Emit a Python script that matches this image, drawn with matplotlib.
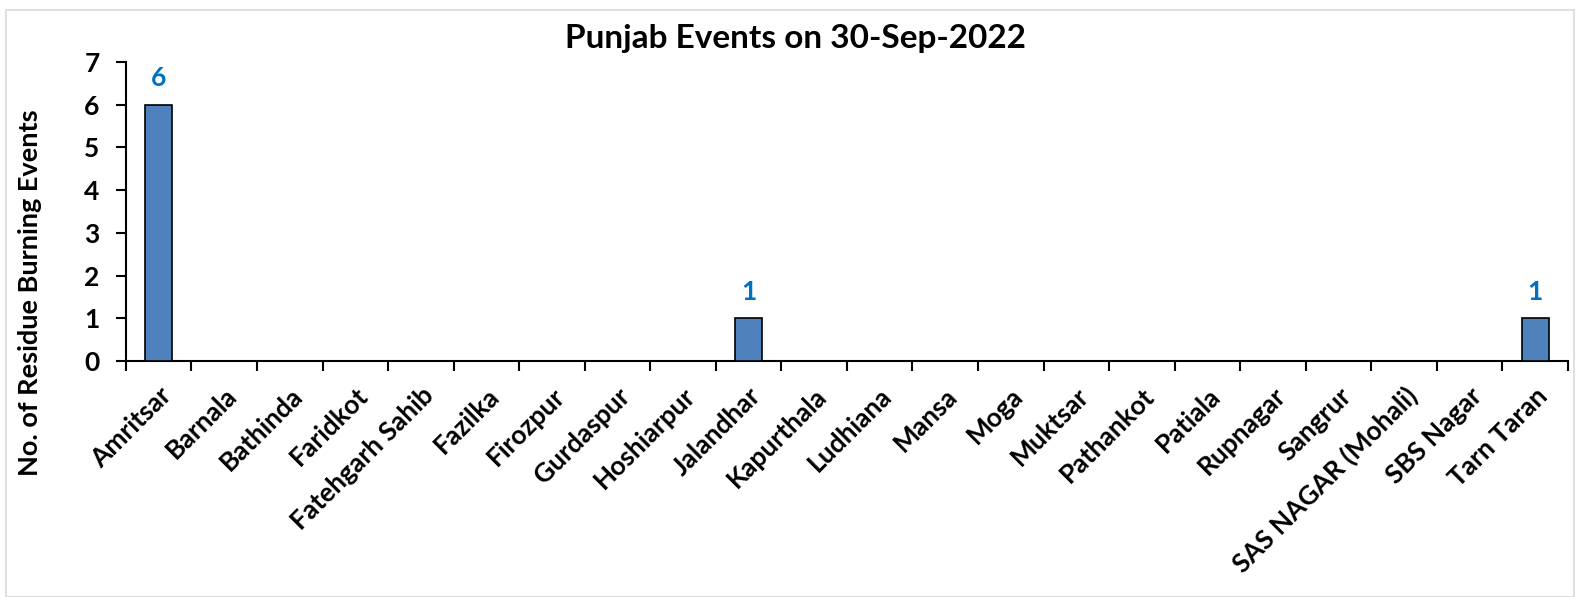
import numpy as np
import matplotlib.pyplot as plt
from matplotlib.patches import Rectangle

plt.rcParams['font.family'] = ['Lato', 'DejaVu Sans']
plt.rcParams['font.weight'] = 'bold'

# data
districts = ["Amritsar", "Barnala", "Bathinda", "Faridkot", "Fatehgarh Sahib",
             "Fazilka", "Firozpur", "Gurdaspur", "Hoshiarpur", "Jalandhar",
             "Kapurthala", "Ludhiana", "Mansa", "Moga", "Muktsar", "Pathankot",
             "Patiala", "Rupnagar", "Sangrur", "SAS NAGAR (Mohali)", "SBS Nagar",
             "Tarn Taran"]
events = [6, 0, 0, 0, 0, 0, 0, 0, 0, 1, 0, 0, 0, 0, 0, 0, 0, 0, 0, 0, 0, 1]
title = "Punjab Events on 30-Sep-2022"
ylabel = "No. of Residue Burning Events"
yticks = [0, 1, 2, 3, 4, 5, 6, 7]

fig = plt.figure(figsize=(15.76, 5.97), dpi=100)
ax = fig.add_axes([0.0799, 0.3953, 0.915, 0.5008])

# light gray chart border like excel
fig.patches.append(Rectangle((0.004, 0.0), 0.995, 0.983, transform=fig.transFigure,
                             fill=False, edgecolor='#d9d9d9', linewidth=1.2))

x = np.arange(len(districts))
ax.bar(x, events, width=0.41, color='#4f81bd', edgecolor='black', linewidth=1.2, zorder=3)

for xi, v in zip(x, events):
    if v > 0:
        ax.text(xi, v + 0.44, str(v), ha='center', va='baseline', color='#0070c0',
                fontsize=19, fontweight='bold')

ax.set_xlim(-0.5, len(districts) - 0.5)
ax.set_ylim(0, 7)
ax.set_yticks(yticks)
ax.set_yticklabels([str(t) for t in yticks], fontsize=19, fontweight='bold')

# ticks at category boundaries, labels at centers
ax.set_xticks(np.arange(len(districts) + 1) - 0.5)
ax.set_xticklabels([])
ax.set_xticks(x, minor=True)
ax.set_xticklabels(districts, minor=True, rotation=45, ha='right',
                   rotation_mode='anchor', fontsize=19, fontweight='bold')
ax.tick_params(axis='x', which='minor', length=0, pad=16)
ax.tick_params(axis='x', which='major', length=7, width=1.5, direction='out')
ax.tick_params(axis='y', length=7, width=1.5, direction='out', pad=12)

for s in ['top', 'right']:
    ax.spines[s].set_visible(False)
for s in ['left', 'bottom']:
    ax.spines[s].set_linewidth(1.5)

fig.text(30 / 1576, 1 - 293 / 597, ylabel, rotation=90, ha='center', va='center',
         fontsize=19.5, fontweight='bold')
fig.text(0.505, 1 - 48 / 597, title, ha='center', va='baseline',
         fontsize=24, fontweight='bold')

fig.savefig("out.png", dpi=100)
